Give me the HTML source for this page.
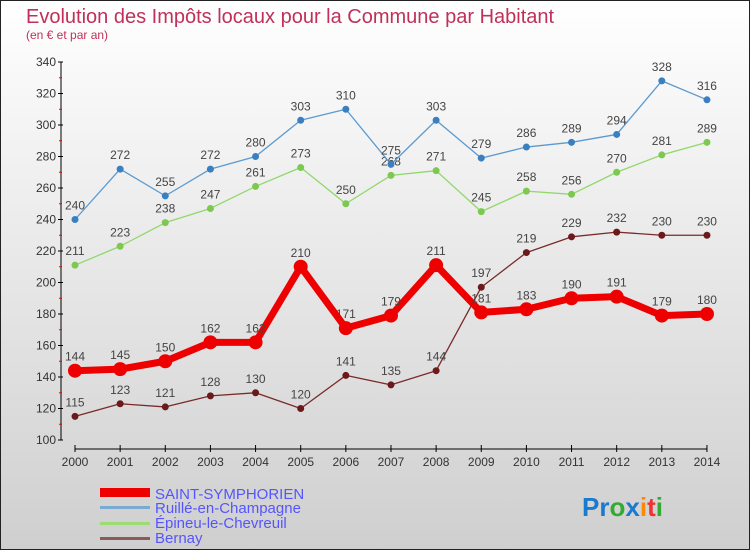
<!DOCTYPE html>
<html><head><meta charset="utf-8"><style>
body{margin:0}
svg text{font-family:"Liberation Sans",sans-serif}
</style></head><body>
<svg id="c" width="750" height="550" xmlns="http://www.w3.org/2000/svg">
<defs><linearGradient id="bg" x1="0" y1="0" x2="0" y2="1"><stop offset="0" stop-color="#ffffff"/><stop offset="1" stop-color="#cfcfcf"/></linearGradient></defs>
<rect x="0.5" y="0.5" width="749" height="549" fill="url(#bg)" stroke="#222"/>
<text x="26" y="23" font-size="20" fill="#c0305a">Evolution des Impôts locaux pour la Commune par Habitant</text>
<text x="26" y="39" font-size="12" fill="#c0305a">(en € et par an)</text>
<g id="axes"></g><g id="series"></g>
<g>
<rect x="100" y="488" width="50" height="9" fill="#e00"/>
<text x="155" y="499" font-size="15" fill="#55f">SAINT-SYMPHORIEN</text>
<rect x="100" y="506" width="50" height="3" fill="#7aaad0"/>
<text x="155" y="513" font-size="15" fill="#55f">Ruillé-en-Champagne</text>
<rect x="100" y="522" width="50" height="3" fill="#9ddc70"/>
<text x="155" y="528" font-size="15" fill="#55f">Épineu-le-Chevreuil</text>
<rect x="100" y="537" width="50" height="3" fill="#8a5a5a"/>
<text x="155" y="543" font-size="15" fill="#55f">Bernay</text>
</g>
<text x="582" y="516" font-size="26" font-weight="bold"><tspan fill="#1a7ad0">Pr</tspan><tspan fill="#3a3">o</tspan><tspan fill="#1a7ad0">x</tspan><tspan fill="#f80">i</tspan><tspan fill="#e33">t</tspan><tspan fill="#3a3">i</tspan></text>
</svg>
<script>
const years=[2000,2001,2002,2003,2004,2005,2006,2007,2008,2009,2010,2011,2012,2013,2014];
const saint=[144,145,150,162,162,210,171,179,211,181,183,190,191,179,180];
const ruille=[240,272,255,272,280,303,310,275,303,279,286,289,294,328,316];
const epineu=[211,223,238,247,261,273,250,268,271,245,258,256,270,281,289];
const bernay=[115,123,121,128,130,120,141,135,144,197,219,229,232,230,230];
const yTicks=[100,120,140,160,180,200,220,240,260,280,300,320,340];
const NS="http://www.w3.org/2000/svg";
const X=i=>75+i*45.14, Y=v=>440-(v-100)*1.575;
function mk(t,a,p){const e=document.createElementNS(NS,t);for(const k in a)e.setAttribute(k,a[k]);p.appendChild(e);return e;}
const ax=document.getElementById('axes'), sg=document.getElementById('series');
let l=mk('line',{x1:61,y1:Y(340),x2:61,y2:Y(100),stroke:'#000'},ax);


l=mk('line',{x1:X(0),y1:449,x2:X(14),y2:449,stroke:'#000'},ax);


yTicks.forEach(v=>{mk('line',{x1:58,y1:Y(v),x2:63,y2:Y(v),stroke:'#000'},ax);
 if(v<340)mk('line',{x1:59,y1:Y(v+10),x2:62,y2:Y(v+10),stroke:'#e00'},ax);
 const t=mk('text',{x:56,y:Y(v)+4,'font-size':12,'text-anchor':'end',fill:'#333'},ax);t.textContent=v;
 
 });
years.forEach((y,i)=>{mk('line',{x1:X(i),y1:445,x2:X(i),y2:452,stroke:'#000'},ax);
 const t=mk('text',{x:X(i),y:466,'font-size':12,'text-anchor':'middle',fill:'#333'},ax);t.textContent=y;
 
 });
function series(d,col,w,r,name,dot){
 const pl=mk('polyline',{points:d.map((v,i)=>X(i)+','+Y(v)).join(' '),fill:'none',stroke:col,'stroke-width':w,'stroke-linejoin':'round'},sg);
 
 
 d.forEach((v,i)=>{const c=mk('circle',{cx:X(i),cy:Y(v),r:r,fill:dot},sg);
  
  
  const t=mk('text',{x:X(i),y:Y(v)-10,'font-size':12,'text-anchor':'middle',fill:'#444'},sg);t.textContent=v;
  
  });
}
series(bernay,'#7a2a2a',1.3,3.5,'bernay','#6a1a1a');
series(epineu,'#8fd86a',1.3,3.5,'epineu','#7cc850');
series(ruille,'#5a9ad0',1.3,3.5,'ruille','#3a80c0');
series(saint,'#ee0000',7,7,'saint-symphorien','#ee0000');
</script>
</body></html>
